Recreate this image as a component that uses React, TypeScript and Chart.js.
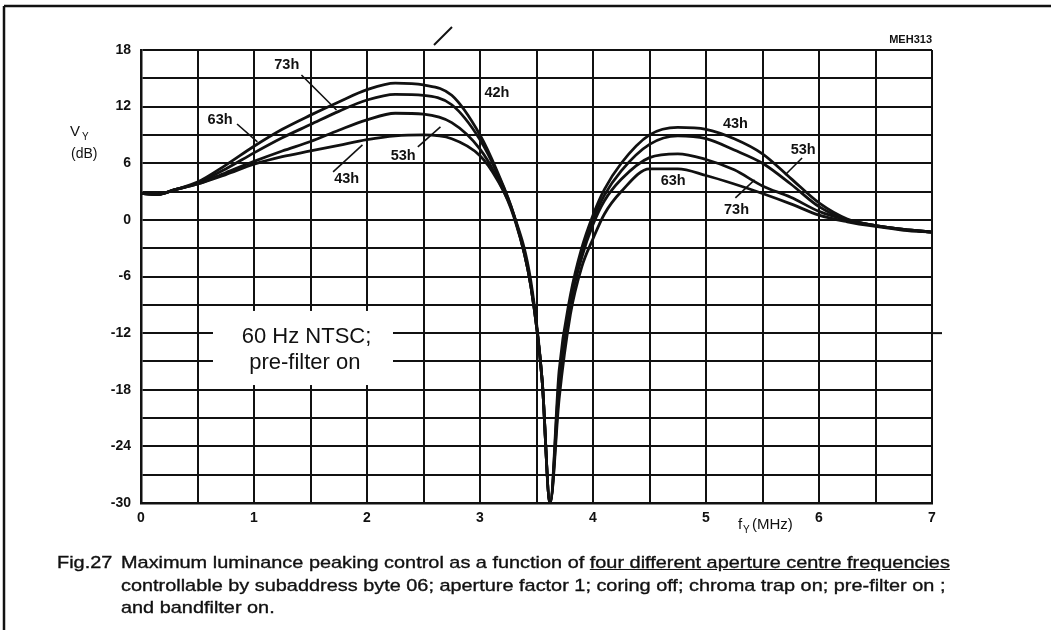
import React, { useEffect, useRef } from "react";
import { Chart, registerables } from "chart.js";

Chart.register(...registerables);

// ---------- data ----------
const freqMHz = [0, 0.15, 0.3, 0.5, 0.75, 1.0, 1.25, 1.5, 1.75, 2.0, 2.25, 2.5, 2.75, 3.0, 3.15, 3.3, 3.45, 3.55, 3.62, 3.7, 3.8, 3.9, 4.0, 4.1, 4.25, 4.5, 4.75, 5.0, 5.25, 5.5, 5.75, 6.0, 6.25, 6.5, 6.75, 7.0];

const gain43h = [2.8, 2.7, 3.2, 3.8, 4.8, 5.9, 6.7, 7.3, 7.9, 8.5, 8.9, 9.0, 8.6, 6.8, 4.3, 0.5, -6.5, -17, -30, -16, -8, -3, 0.5, 3.2, 6.0, 9.0, 9.8, 9.6, 8.6, 7.0, 4.4, 1.8, 0.1, -0.6, -1.0, -1.3];
const gain53h = [2.8, 2.7, 3.2, 3.8, 5.0, 6.2, 7.3, 8.3, 9.5, 10.6, 11.3, 11.2, 10.3, 7.5, 4.5, 0.3, -7, -17, -30, -17, -8.5, -3.5, 0.0, 2.6, 5.2, 8.0, 8.9, 8.6, 7.4, 6.0, 3.8, 1.4, 0.0, -0.6, -1.0, -1.3];
const gain63h = [2.8, 2.7, 3.2, 4.0, 5.8, 7.8, 9.6, 11.1, 12.5, 13.8, 14.5, 14.3, 13.2, 9.0, 5.2, 0.5, -7, -17, -30, -19, -10, -5, -2.0, 0.6, 3.0, 5.4, 5.4, 4.7, 3.8, 2.8, 1.7, 0.5, -0.2, -0.7, -1.1, -1.3];
const gain73h = [2.8, 2.7, 3.2, 3.9, 5.4, 7.1, 8.7, 10.1, 11.5, 12.7, 13.3, 13.2, 12.2, 8.5, 5.0, 0.5, -7, -17, -30, -18, -9, -4, -0.5, 2.0, 4.3, 6.6, 7.0, 6.4, 5.3, 3.6, 2.4, 0.9, 0.0, -0.6, -1.0, -1.3];

const seriesNames = ["43h", "53h", "63h", "73h"];
const seriesValues = [gain43h, gain53h, gain63h, gain73h];

const xTickLabels = ["0", "1", "2", "3", "4", "5", "6", "7"];
const yTickLabels = ["-30", "-24", "-18", "-12", "-6", "0", "6", "12", "18"];

// ---------- styling / annotation helpers ----------
const INK = "#111";
const FONT = '"Liberation Sans", Arial, Helvetica, sans-serif';

// curve label annotations in data coordinates
const curveLabels = [
  { t: "73h", x: 1.29, y: 16.4, lead: [1.42, 15.35, 1.73, 11.64] },
  { t: "63h", x: 0.7, y: 10.6, lead: [0.85, 10.16, 1.03, 8.26] },
  { t: "43h", x: 1.82, y: 4.34, lead: [1.7, 5.08, 1.96, 7.94] },
  { t: "53h", x: 2.32, y: 6.77, lead: [2.45, 7.73, 2.65, 9.85] },
  { t: "42h", x: 3.15, y: 13.45, lead: null },
  { t: "43h", x: 5.26, y: 10.16, lead: null },
  { t: "53h", x: 5.86, y: 7.4, lead: [5.85, 6.56, 5.7, 4.76] },
  { t: "63h", x: 4.71, y: 4.13, lead: null },
  { t: "73h", x: 5.27, y: 1.05, lead: [5.26, 2.33, 5.43, 4.23] },
];

const annotPlugin = {
  id: "annot",
  afterDraw(chart: any) {
    const { ctx, chartArea: ca } = chart;
    const xs = chart.scales.x;
    const ys = chart.scales.y;
    const X = (v: number) => xs.getPixelForValue(v);
    const Y = (v: number) => ys.getPixelForValue(v);
    const line = (x1: number, y1: number, x2: number, y2: number) => {
      ctx.beginPath();
      ctx.moveTo(x1, y1);
      ctx.lineTo(x2, y2);
      ctx.stroke();
    };
    ctx.save();
    ctx.strokeStyle = INK;
    ctx.fillStyle = INK;

    // figure frame
    ctx.lineWidth = 2.5;
    line(4, 6, 1051, 6);
    line(4, 6, 4, 630);
    // stray stroke above the grid
    ctx.lineWidth = 2;
    line(434, 45, 452, 27);

    // -12 dB reference line extension
    ctx.lineWidth = 2;
    line(ca.right, Y(-12), ca.right + 10, Y(-12));

    // white box with condition text
    ctx.fillStyle = "#fff";
    const bx1 = X(0.637), bx2 = X(2.23), by1 = Y(-9.65), by2 = Y(-17.5);
    ctx.fillRect(bx1, by1, bx2 - bx1, by2 - by1);
    ctx.fillStyle = INK;
    ctx.font = `22px ${FONT}`;
    ctx.textAlign = "center";
    ctx.textBaseline = "middle";
    ctx.fillText("60 Hz NTSC;", X(1.465), Y(-12.4));
    ctx.fillText("pre-filter on", X(1.45), Y(-15.2));

    // curve labels and leaders
    ctx.font = `bold 14.5px ${FONT}`;
    ctx.lineWidth = 1.6;
    for (const c of curveLabels) {
      ctx.fillText(c.t, X(c.x), Y(c.y));
      if (c.lead) line(X(c.lead[0]), Y(c.lead[1]), X(c.lead[2]), Y(c.lead[3]));
    }

    // y axis title
    ctx.textAlign = "left";
    ctx.font = `15px ${FONT}`;
    ctx.fillText("V", 70, 132);
    ctx.font = `10px ${FONT}`;
    ctx.fillText("Y", 82, 137);
    ctx.font = `14px ${FONT}`;
    ctx.fillText("(dB)", 71, 154);

    // x axis title
    ctx.font = `15px ${FONT}`;
    ctx.fillText("f", 738, 525);
    ctx.font = `10px ${FONT}`;
    ctx.fillText("Y", 743, 530);
    ctx.font = `15px ${FONT}`;
    ctx.fillText("(MHz)", 752, 525);

    // figure code
    ctx.textAlign = "right";
    ctx.font = `bold 11px ${FONT}`;
    ctx.fillText("MEH313", ca.right, 40);

    ctx.restore();
  },
};

export default function App() {
  const ref = useRef<HTMLCanvasElement | null>(null);

  useEffect(() => {
    if (!ref.current) return;
    const datasets = seriesNames.map((name, i) => ({
      label: name,
      data: freqMHz.map((f, k) => ({ x: f, y: seriesValues[i][k] })),
      borderColor: INK,
      borderWidth: 2.8,
      pointRadius: 0,
      fill: false,
      cubicInterpolationMode: "monotone" as const,
    }));

    const chart = new Chart(ref.current, {
      type: "line",
      data: { datasets },
      plugins: [annotPlugin],
      options: {
        animation: false,
        responsive: false,
        devicePixelRatio: 1,
        layout: { padding: { left: 0, top: 50, right: 119, bottom: 0 } },
        plugins: { legend: { display: false }, tooltip: { enabled: false } },
        scales: {
          x: {
            type: "linear",
            min: 0,
            max: 7,
            afterFit: (s: any) => {
              s.height = 127;
            },
            grid: { color: INK, lineWidth: 2, drawTicks: false },
            border: { color: INK, width: 2.5 },
            ticks: {
              stepSize: 0.5,
              autoSkip: false,
              maxRotation: 0,
              padding: 7,
              color: INK,
              font: { family: FONT, size: 14, weight: "bold" },
              callback: (v: any) => {
                const n = Number(v);
                return Number.isInteger(n) ? xTickLabels[n] : "";
              },
            },
          },
          y: {
            type: "linear",
            min: -30,
            max: 18,
            afterFit: (s: any) => {
              s.width = 141;
            },
            grid: { color: INK, lineWidth: 2, drawTicks: false },
            border: { color: INK, width: 2.5 },
            ticks: {
              stepSize: 3,
              autoSkip: false,
              padding: 10,
              color: INK,
              font: { family: FONT, size: 14, weight: "bold" },
              callback: (v: any) => {
                const n = Number(v);
                const idx = (n + 30) / 6;
                return Number.isInteger(idx) ? yTickLabels[idx] : "";
              },
            },
          },
        },
      },
    });
    return () => chart.destroy();
  }, []);

  const capStyle: React.CSSProperties = {
    position: "absolute",
    fontFamily: FONT,
    fontSize: 17,
    lineHeight: "22.5px",
    color: INK,
    whiteSpace: "nowrap",
    transform: "scaleX(1.17)",
    transformOrigin: "left top",
    WebkitTextStroke: "0.35px #111",
  };

  return (
    <div style={{ position: "fixed", left: 0, top: 0, width: 1051, height: 630, background: "#fff", overflow: "hidden" }}>
      <canvas ref={ref} width={1051} height={630} style={{ display: "block", width: 1051, height: 630 }} />
      <div style={{ ...capStyle, left: 57, top: 552 }}>Fig.27</div>
      <div style={{ ...capStyle, left: 121, top: 552 }}>
        Maximum luminance peaking control as a function of{" "}
        <span style={{ textDecoration: "underline" }}>four different aperture centre frequencies</span>
        <br />
        controllable by subaddress byte 06; aperture factor 1; coring off; chroma trap on; pre-filter on ;
        <br />
        and bandfilter on.
      </div>
    </div>
  );
}
